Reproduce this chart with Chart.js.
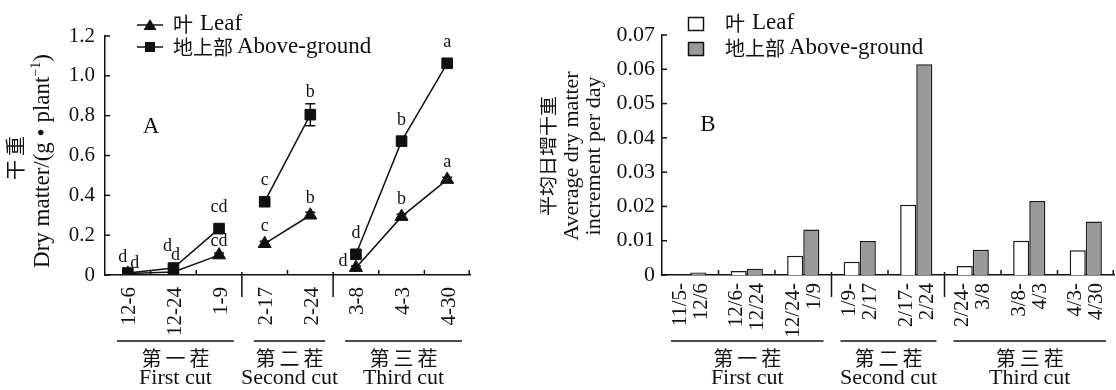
<!DOCTYPE html>
<html><head><meta charset="utf-8">
<script src="https://cdn.jsdelivr.net/npm/chart.js@4.4.1/dist/chart.umd.min.js"></script>
<style>
html,body{margin:0;padding:0;background:#fff;}
#wrap{position:relative;width:1116px;height:390px;overflow:hidden;background:#fff;}
#cA{position:absolute;left:0;top:0;}
#cB{position:absolute;left:540px;top:0;}
</style></head><body>
<div id="wrap"><canvas id="cA" width="540" height="390"></canvas><canvas id="cB" width="576" height="390"></canvas></div>
<script>
// ---------- data ----------
const dates = ['12-6','12-24','1-9','2-17','2-24','3-8','4-3','4-30'];
const leafDM = [0.008,0.015,0.10,0.157,0.30,0.037,0.293,0.479];
const leafErr = [0.004,0.005,0.01,0.012,0.015,0.008,0.012,0.012];
const aboveDM = [0.01,0.035,0.233,0.368,0.805,0.104,0.672,1.063];
const aboveErr = [0.005,0.008,0.02,0.012,0.055,0.012,0.01,0.01];
const leafSig = ['d','d','cd','c','b','d','b','a'];
const aboveSig = ['d','d','cd','c','b','d','b','a'];
const periods = [['11/5-','12/6'],['12/6-','12/24'],['12/24-','1/9'],['1/9-','2/17'],['2/17-','2/24'],['2/24-','3/8'],['3/8-','4/3'],['4/3-','4/30']];
const leafRate = [0,0.0012,0.0056,0.0039,0.0205,0.0026,0.0100,0.0072];
const aboveRate = [0.0007,0.0018,0.0133,0.0099,0.0615,0.0074,0.0216,0.0156];
const groupZh = ['第一茬','第二茬','第三茬'];
const groupEn = ['First cut','Second cut','Third cut'];
const groupStart = [0,3,5];
const groupEnd = [2,4,7];
const yTicksA = {min:0, max:1.2, step:0.2};
const yTicksB = {min:0, max:0.07, step:0.01};
const legendLeaf = ['叶', 'Leaf'];
const legendAbove = ['地上部', 'Above-ground'];

// ---------- styles ----------
const SERIF = '"Liberation Serif","Times New Roman",serif';
const CJK = '"Noto Sans CJK SC","Noto Sans CJK JP",sans-serif';
const INK = '#111';
Chart.defaults.font.family = SERIF;
Chart.defaults.color = INK;

function vtext(ctx, cx, cy, parts) {
  ctx.save(); ctx.translate(cx, cy); ctx.rotate(-Math.PI/2);
  let total = 0;
  parts.forEach(p => { ctx.font = p.font; p.w = ctx.measureText(p.t).width; total += p.w; });
  let xx = -total/2; ctx.textBaseline = 'middle'; ctx.textAlign = 'left'; ctx.fillStyle = INK;
  parts.forEach(p => { ctx.font = p.font; ctx.fillText(p.t, xx, p.dy || 0); xx += p.w; });
  ctx.restore();
}
function htext(ctx, x, y, parts, align) {
  let total = 0;
  parts.forEach(p => { ctx.font = p.font; p.w = ctx.measureText(p.t).width; total += p.w + (p.gap||0); });
  let xx = align === 'center' ? x - total/2 : x;
  ctx.textBaseline = 'middle'; ctx.textAlign = 'left'; ctx.fillStyle = INK;
  parts.forEach(p => { ctx.font = p.font; ctx.fillText(p.t, xx, y); xx += p.w + (p.gap||0); });
}
function axisMarks(chart) {
  const {ctx, chartArea:a, scales:{x,y}} = chart;
  ctx.save(); ctx.strokeStyle = INK; ctx.lineWidth = 1.5;
  y.ticks.forEach(t => { const py = y.getPixelForValue(t.value); ctx.beginPath(); ctx.moveTo(a.left, py); ctx.lineTo(a.left+5, py); ctx.stroke(); });
  const n = x.ticks.length;
  for (let i = 1; i <= n; i++) {
    const px = i < n ? (x.getPixelForValue(i-1) + x.getPixelForValue(i))/2 : a.right - 0.75;
    ctx.beginPath();
    if (groupStart.includes(i)) { ctx.moveTo(px, a.bottom - 3); ctx.lineTo(px, a.bottom + 22); }
    else { ctx.moveTo(px, a.bottom); ctx.lineTo(px, a.bottom - 5); }
    ctx.stroke();
  }
  ctx.restore();
}
function groups(chart, ins0, ins1) {
  const {ctx, chartArea:a, scales:{x}} = chart;
  const slot = (a.right - a.left)/x.ticks.length;
  ctx.save(); ctx.strokeStyle = INK; ctx.lineWidth = 1.5;
  groupZh.forEach((zh, g) => {
    const x0 = x.getPixelForValue(groupStart[g]) - slot/2 + ins0;
    const x1 = x.getPixelForValue(groupEnd[g]) + slot/2 - ins1;
    ctx.beginPath(); ctx.moveTo(x0, 341); ctx.lineTo(x1, 341); ctx.stroke();
    const cx = (x0 + x1)/2;
    htext(ctx, cx, 358, [{t: zh.split('').join('\u2009'), font: '20px ' + CJK}], 'center');
    htext(ctx, cx, 378, [{t: groupEn[g], font: '22px ' + SERIF}], 'center');
  });
  ctx.restore();
}

// ---------- chart A ----------
const sigOffLeaf = {0:[7,-10], 1:[2,-17], 2:[0,-14], 5:[-13,-6]};
const sigOffAbove = {0:[-5,-16], 1:[-6,-22]};
const pluginA = {
  id: 'annA',
  afterDatasetsDraw(chart) {
    const {ctx, scales:{x,y}} = chart;
    ctx.save(); ctx.strokeStyle = INK; ctx.lineWidth = 1.5;
    [[leafDM, leafErr],[aboveDM, aboveErr]].forEach(([vals, errs]) => {
      vals.forEach((v, i) => {
        const px = x.getPixelForValue(i), y0 = y.getPixelForValue(v - errs[i]), y1 = y.getPixelForValue(v + errs[i]);
        ctx.beginPath(); ctx.moveTo(px, y0); ctx.lineTo(px, y1);
        ctx.moveTo(px-5, y0); ctx.lineTo(px+5, y0); ctx.moveTo(px-5, y1); ctx.lineTo(px+5, y1); ctx.stroke();
      });
    });
    ctx.restore();
  },
  afterDraw(chart) {
    const {ctx, scales:{x,y}} = chart;
    axisMarks(chart);
    groups(chart, 12, 8);
    ctx.save();
    ctx.font = '18px ' + SERIF; ctx.textAlign = 'center'; ctx.textBaseline = 'middle'; ctx.fillStyle = INK;
    leafDM.forEach((v, i) => {
      const px = x.getPixelForValue(i), py = y.getPixelForValue(v);
      const o = sigOffLeaf[i] || [0, -17];
      ctx.fillText(leafSig[i], px + o[0], py + o[1]);
    });
    aboveDM.forEach((v, i) => {
      const px = x.getPixelForValue(i), py = y.getPixelForValue(v);
      const ep = py - y.getPixelForValue(v + aboveErr[i]);
      const o = sigOffAbove[i] || [0, -Math.max(21, ep + 11)];
      ctx.fillText(aboveSig[i], px + o[0], py + o[1]);
    });
    ctx.font = '23px ' + SERIF; ctx.fillText('A', 151, 127);
    vtext(ctx, 15, 158, [{t:'干\u2009重', font:'20px ' + CJK}]);
    vtext(ctx, 43, 161, [{t:'Dry matter/(g • plant', font:'23px ' + SERIF}, {t:'−1', font:'14px ' + SERIF, dy:-7}, {t:')', font:'23px ' + SERIF}]);
    ctx.strokeStyle = INK; ctx.fillStyle = INK; ctx.lineWidth = 1.5;
    ctx.beginPath(); ctx.moveTo(137, 25); ctx.lineTo(163, 25); ctx.stroke();
    ctx.beginPath(); ctx.moveTo(150, 19); ctx.lineTo(156.5, 30); ctx.lineTo(143.5, 30); ctx.closePath(); ctx.fill();
    ctx.beginPath(); ctx.moveTo(137, 47); ctx.lineTo(163, 47); ctx.stroke();
    ctx.fillRect(145, 42, 10, 10);
    htext(ctx, 173, 24, [{t: legendLeaf[0], font:'20px ' + CJK, gap:7}, {t: legendLeaf[1], font:'23px ' + SERIF}]);
    htext(ctx, 173, 47, [{t: legendAbove[0], font:'20px ' + CJK, gap:4}, {t: legendAbove[1], font:'23px ' + SERIF}]);
    ctx.restore();
  }
};
const segColor = c => groupEnd.includes(c.p0DataIndex) ? 'rgba(0,0,0,0)' : INK;
new Chart(document.getElementById('cA'), {
  type: 'line',
  data: { labels: dates, datasets: [
    { label: 'Leaf', data: leafDM, borderColor: INK, borderWidth: 1.5, pointStyle: 'triangle', pointRadius: 7.5, pointBackgroundColor: INK, pointBorderColor: INK, pointBorderWidth: 1, segment: {borderColor: segColor} },
    { label: 'Above-ground', data: aboveDM, borderColor: INK, borderWidth: 1.5, pointStyle: 'rect', pointRadius: 7.5, pointBackgroundColor: INK, pointBorderColor: INK, pointBorderWidth: 1, segment: {borderColor: segColor} }
  ]},
  options: {
    responsive: false, animation: false, events: [], devicePixelRatio: 1,
    layout: { padding: { left: 0, right: 70, top: 36, bottom: 0 } },
    plugins: { legend: {display: false}, tooltip: {enabled: false} },
    scales: {
      x: { offset: true, grid: {display: false, drawTicks: false}, border: {display: true, color: INK, width: 1.5},
           ticks: { autoSkip: false, minRotation: 90, maxRotation: 90, padding: 12, labelOffset: 2, color: INK, font: {size: 21, family: SERIF} },
           afterFit: s => { s.height = 115; s.paddingLeft = 0; s.paddingRight = 0; } },
      y: { min: yTicksA.min, max: yTicksA.max, grid: {display: false, drawTicks: false}, border: {display: true, color: INK, width: 1.5},
           ticks: { stepSize: yTicksA.step, padding: 10, color: INK, font: {size: 21, family: SERIF}, callback: v => v === 0 ? '0' : (+v).toFixed(1) },
           afterFit: s => { s.width = 105; } }
    }
  },
  plugins: [pluginA]
});

// ---------- chart B ----------
const pluginB = {
  id: 'annB',
  afterDraw(chart) {
    const {ctx} = chart;
    axisMarks(chart);
    groups(chart, 9, 8);
    ctx.save();
    ctx.font = '23px ' + SERIF; ctx.textAlign = 'center'; ctx.textBaseline = 'middle'; ctx.fillStyle = INK;
    ctx.fillText('B', 168, 125);
    vtext(ctx, 7, 156, [{t:'平均日增干重', font:'20px ' + CJK}]);
    vtext(ctx, 32, 156, [{t:'Average dry matter', font:'22px ' + SERIF}]);
    vtext(ctx, 54, 156, [{t:'increment per day', font:'22px ' + SERIF}]);
    ctx.lineWidth = 1.5; ctx.strokeStyle = INK;
    ctx.fillStyle = '#fff'; ctx.fillRect(148.5, 17.5, 15, 13); ctx.strokeRect(148.5, 17.5, 15, 13);
    ctx.fillStyle = '#999'; ctx.fillRect(148.5, 42.5, 15, 13); ctx.strokeRect(148.5, 42.5, 15, 13);
    htext(ctx, 185, 23, [{t: legendLeaf[0], font:'20px ' + CJK, gap:7}, {t: legendLeaf[1], font:'23px ' + SERIF}]);
    htext(ctx, 185, 48, [{t: legendAbove[0], font:'20px ' + CJK, gap:4}, {t: legendAbove[1], font:'23px ' + SERIF}]);
    ctx.restore();
  }
};
new Chart(document.getElementById('cB'), {
  type: 'bar',
  data: { labels: periods, datasets: [
    { label: 'Leaf', data: leafRate, backgroundColor: '#fff', borderColor: '#1a1a1a', borderWidth: 1.5 },
    { label: 'Above-ground', data: aboveRate, backgroundColor: '#999', borderColor: '#1a1a1a', borderWidth: 1.5 }
  ]},
  options: {
    responsive: false, animation: false, events: [], devicePixelRatio: 1,
    layout: { padding: { left: 0, right: 2, top: 35, bottom: 0 } },
    datasets: { bar: { categoryPercentage: 0.57, barPercentage: 1.0 } },
    plugins: { legend: {display: false}, tooltip: {enabled: false} },
    scales: {
      x: { offset: true, grid: {display: false, drawTicks: false}, border: {display: true, color: INK, width: 1.5},
           ticks: { autoSkip: false, minRotation: 90, maxRotation: 90, padding: 8, labelOffset: -10, color: INK, font: {size: 21, family: SERIF, lineHeight: 1.0} },
           afterFit: s => { s.height = 115; s.paddingLeft = 0; s.paddingRight = 0; } },
      y: { min: yTicksB.min, max: yTicksB.max, grid: {display: false, drawTicks: false}, border: {display: true, color: INK, width: 1.5},
           ticks: { stepSize: yTicksB.step, padding: 7, color: INK, font: {size: 22, family: SERIF}, callback: v => Math.abs(v) < 1e-9 ? '0' : (+v).toFixed(2) },
           afterFit: s => { s.width = 122; } }
    }
  },
  plugins: [pluginB]
});
</script></body></html>
